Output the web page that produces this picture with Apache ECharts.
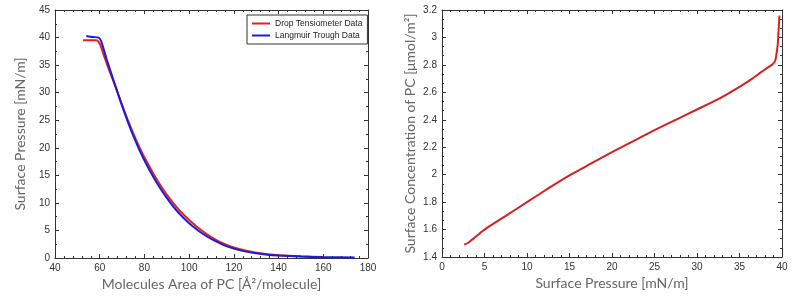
<!DOCTYPE html>
<html>
<head>
<meta charset="utf-8">
<script src="https://cdn.jsdelivr.net/npm/echarts@6/dist/echarts.min.js"></script>
<style>
html, body { margin: 0; padding: 0; background: #fff; }
#main { width: 800px; height: 298px; }
</style>
</head>
<body>
<div id="main"></div>
<script>
// left plot: isotherms
var dropX = [52.5, 55, 58.5, 59.5, 60.5, 62, 64, 66, 67.5, 70, 72.5, 75, 78, 81, 84, 87, 90, 93, 96, 100, 104, 108, 112, 116, 120, 125, 130, 140, 150, 160];
var dropY = [39.5, 39.5, 39.5, 39.2, 38.4, 36.6, 34.3, 32.2, 30.6, 27.8, 25.1, 22.6, 19.9, 17.5, 15.3, 13.3, 11.5, 9.9, 8.5, 6.9, 5.5, 4.3, 3.3, 2.5, 1.9, 1.35, 0.95, 0.5, 0.3, 0.2];
var troughX = [54, 57, 59.5, 60.5, 61.5, 63, 65, 67.5, 70, 72.5, 75, 78, 81, 84, 87, 90, 93, 96, 100, 104, 108, 112, 116, 120, 125, 130, 135, 140, 150, 160, 174];
var troughY = [40.3, 40.1, 40, 39.5, 38.3, 36.2, 33.7, 30.6, 27.6, 24.8, 22.2, 19.4, 16.9, 14.7, 12.7, 10.9, 9.3, 7.9, 6.3, 5.0, 3.9, 3.0, 2.25, 1.7, 1.2, 0.85, 0.6, 0.45, 0.25, 0.15, 0.1];

// right plot: concentration vs pressure
var pressX = [2.6, 3.0, 3.5, 4.2, 5, 7.5, 10, 12.5, 15, 17.5, 20, 22.5, 25, 27.5, 30, 32.5, 35, 36.5, 37.5, 38.3, 38.9, 39.2, 39.35, 39.5, 39.6, 39.7];
var concY = [1.49, 1.50, 1.525, 1.56, 1.60, 1.70, 1.80, 1.90, 1.995, 2.08, 2.165, 2.245, 2.325, 2.40, 2.475, 2.55, 2.64, 2.70, 2.745, 2.78, 2.805, 2.83, 2.88, 2.95, 3.05, 3.16];

function pairs(xs, ys) {
    return xs.map(function (x, i) { return [x, ys[i]]; });
}

var axisColor = '#333';
var labelStyle = { color: '#333', fontSize: 10, fontFamily: 'Liberation Sans' };
var nameStyle = { color: '#666', fontSize: 14, fontFamily: 'Lato' };

function valueAxis(opts) {
    var a = {
        type: 'value',
        gridIndex: opts.grid,
        position: opts.position,
        min: opts.min,
        max: opts.max,
        interval: opts.interval,
        axisLine: { show: true, onZero: false, lineStyle: { color: axisColor, width: 1 } },
        axisTick: { show: true, inside: true, length: 4, lineStyle: { color: axisColor } },
        minorTick: { show: true, splitNumber: opts.minor, length: 2, lineStyle: { color: axisColor } },
        splitLine: { show: false },
        axisLabel: opts.label ? Object.assign({ margin: 5 }, labelStyle) : { show: false }
    };
    if (opts.name) {
        a.name = opts.name;
        a.nameLocation = 'middle';
        a.nameGap = opts.nameGap;
        a.nameTextStyle = nameStyle;
    }
    return a;
}

var myChart = echarts.init(document.getElementById('main'));

var option = {
    animation: false,
    grid: [
        { left: 55, right: 432, top: 10, bottom: 40 },
        { left: 442, right: 18, top: 10, bottom: 41 }
    ],
    legend: {
        orient: 'vertical',
        left: 247,
        top: 15,
        padding: [4, 5, 4, 5],
        itemGap: 3,
        itemWidth: 18,
        itemHeight: 8,
        borderColor: '#333',
        borderWidth: 1,
        backgroundColor: '#fff',
        textStyle: { color: '#222', fontSize: 8.5, fontFamily: 'Liberation Sans' },
        data: [
            { name: 'Drop Tensiometer Data', icon: 'path://M0,0H18V2H0Z' },
            { name: 'Langmuir Trough Data', icon: 'path://M0,0H18V2H0Z' }
        ]
    },
    xAxis: [
        valueAxis({ grid: 0, position: 'bottom', min: 40, max: 180, interval: 20, minor: 5, label: true,
            name: 'Molecules Area of PC [Å²/molecule]', nameGap: 18 }),
        valueAxis({ grid: 0, position: 'top', min: 40, max: 180, interval: 20, minor: 5 }),
        valueAxis({ grid: 1, position: 'bottom', min: 0, max: 40, interval: 5, minor: 5, label: true,
            name: 'Surface Pressure [mN/m]', nameGap: 17 }),
        valueAxis({ grid: 1, position: 'top', min: 0, max: 40, interval: 5, minor: 5 })
    ],
    yAxis: [
        valueAxis({ grid: 0, position: 'left', min: 0, max: 45, interval: 5, minor: 2, label: true,
            name: 'Surface Pressure [mN/m]', nameGap: 28 }),
        valueAxis({ grid: 0, position: 'right', min: 0, max: 45, interval: 5, minor: 2 }),
        valueAxis({ grid: 1, position: 'left', min: 1.4, max: 3.2, interval: 0.2, minor: 3, label: true,
            name: 'Surface Concentration of PC [μmol/m²]', nameGap: 25 }),
        valueAxis({ grid: 1, position: 'right', min: 1.4, max: 3.2, interval: 0.2, minor: 3 })
    ],
    series: [
        {
            name: 'Drop Tensiometer Data',
            type: 'line',
            xAxisIndex: 0,
            yAxisIndex: 0,
            showSymbol: false,
            smooth: 0.2,
            lineStyle: { color: '#e02020', width: 2 },
            itemStyle: { color: '#e02020' },
            data: pairs(dropX, dropY)
        },
        {
            name: 'Langmuir Trough Data',
            type: 'line',
            xAxisIndex: 0,
            yAxisIndex: 0,
            showSymbol: false,
            smooth: 0.2,
            lineStyle: { color: '#1a1ae0', width: 2 },
            itemStyle: { color: '#1a1ae0' },
            data: pairs(troughX, troughY)
        },
        {
            name: 'Concentration',
            type: 'line',
            xAxisIndex: 2,
            yAxisIndex: 2,
            showSymbol: false,
            smooth: 0.2,
            lineStyle: { color: '#d42020', width: 2 },
            itemStyle: { color: '#d42020' },
            data: pairs(pressX, concY)
        }
    ]
};
myChart.setOption(option);
window.addEventListener('resize', function () {
    myChart.resize();
});
</script>
</body>
</html>
